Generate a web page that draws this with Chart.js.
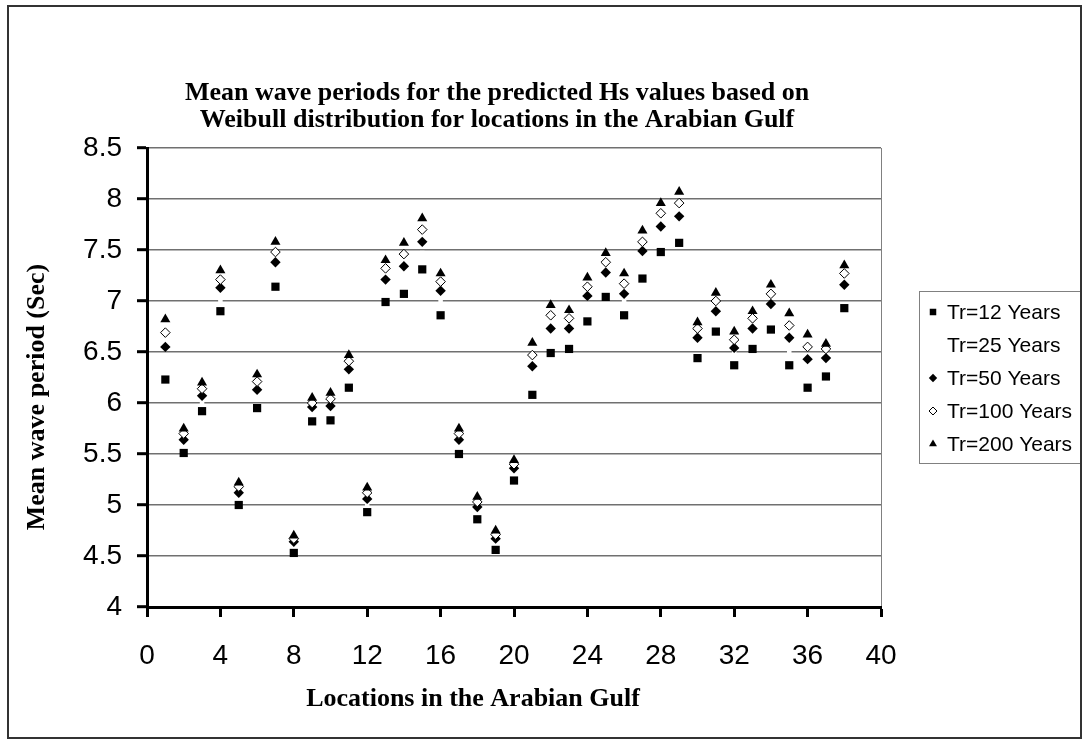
<!DOCTYPE html>
<html>
<head>
<meta charset="utf-8">
<title>Mean wave periods - Arabian Gulf</title>
<script src="https://cdn.jsdelivr.net/npm/chart.js@4/dist/chart.umd.min.js"></script>
<style>
  html, body { margin: 0; padding: 0; background: #fff; }
  #wrap { width: 1088px; height: 744px; }
</style>
</head>
<body>
<div id="wrap"><canvas id="chart" width="1088" height="744"></canvas></div>
<script>
// Locations (x) and mean wave periods (sec) per return period
const locations = [1,2,3,4,5,6,7,8,9,10,11,12,13,14,15,16,17,18,19,20,21,22,23,24,25,26,27,28,29,30,31,32,33,34,35,36,37,38];
const tr12  = [6.23,5.51,5.92,6.90,5.00,5.95,7.14,4.53,5.82,5.83,6.15,4.93,6.99,7.07,7.31,6.86,5.50,4.86,4.56,5.24,6.08,6.49,6.53,6.80,7.04,6.86,7.22,7.48,7.57,6.44,6.70,6.37,6.53,6.72,6.37,6.15,6.26,6.93];
const tr25  = [6.42,5.59,6.01,7.00,5.07,6.06,7.28,4.60,5.90,5.91,6.26,5.01,7.12,7.23,7.47,7.00,5.58,4.93,4.63,5.31,6.25,6.63,6.65,6.95,7.18,7.00,7.38,7.63,7.73,6.54,6.82,6.50,6.65,6.87,6.50,6.32,6.37,7.07];
const tr50  = [6.55,5.64,6.07,7.13,5.12,6.13,7.38,4.64,5.96,5.97,6.33,5.06,7.21,7.34,7.58,7.10,5.64,4.98,4.67,5.36,6.36,6.73,6.73,7.05,7.28,7.07,7.49,7.73,7.83,6.64,6.90,6.54,6.73,6.97,6.64,6.43,6.44,7.16];
const tr100 = [6.69,5.70,6.14,7.21,5.18,6.21,7.48,4.67,6.00,6.04,6.41,5.12,7.32,7.46,7.70,7.19,5.70,5.03,4.71,5.40,6.47,6.86,6.83,7.14,7.38,7.17,7.58,7.86,7.96,6.73,7.00,6.62,6.83,7.07,6.76,6.55,6.53,7.27];
const tr200 = [6.82,5.75,6.20,7.30,5.22,6.28,7.58,4.70,6.05,6.10,6.47,5.17,7.40,7.57,7.81,7.27,5.75,5.08,4.75,5.44,6.59,6.96,6.91,7.23,7.47,7.27,7.69,7.96,8.07,6.79,7.08,6.70,6.90,7.16,6.88,6.67,6.58,7.35];

const seriesLabels = ['Tr=12 Years', 'Tr=25 Years', 'Tr=50 Years', 'Tr=100 Years', 'Tr=200 Years'];
const titleLines = ['Mean wave periods for the predicted Hs values based on',
                    'Weibull distribution for locations in the Arabian Gulf'];
const xTitle = 'Locations in the Arabian Gulf';
const yTitle = 'Mean wave period (Sec)';

const toPoints = vals => vals.map((v, i) => ({ x: locations[i], y: v }));

// marker look of each series (plot and legend)
const markers = [
  { pointStyle: 'rect',     radius: 5.8, legendRadius: 4.6, fill: '#000', stroke: '#000', bw: 0 },
  { pointStyle: 'rect',     radius: 3.2, legendRadius: 3.2, fill: '#fff', stroke: '#fff', bw: 0 },
  { pointStyle: 'rectRot',  radius: 5.2, legendRadius: 4.2, fill: '#000', stroke: '#000', bw: 0 },
  { pointStyle: 'rectRot',  radius: 4.8, legendRadius: 4,   fill: '#fff', stroke: '#000', bw: 1 },
  { pointStyle: 'triangle', radius: 5.8, legendRadius: 4.6, fill: '#000', stroke: '#000', bw: 0 }
];
const seriesValues = [tr12, tr25, tr50, tr100, tr200];

const datasets = seriesValues.map((vals, i) => ({
  label: seriesLabels[i],
  data: toPoints(vals),
  pointStyle: markers[i].pointStyle,
  pointRadius: markers[i].radius,
  pointHoverRadius: markers[i].radius,
  backgroundColor: markers[i].fill,
  borderColor: markers[i].stroke,
  borderWidth: markers[i].bw,
  order: i === 1 ? 10 : 5 - i
}));

const serif = '"Liberation Serif", "Times New Roman", serif';
const sans = '"Liberation Sans", Arial, sans-serif';

// titles, legend and the outer frame
const decorations = {
  id: 'decorations',
  afterDraw(chart) {
    const ctx = chart.ctx;
    ctx.save();
    ctx.fillStyle = '#000';
    ctx.textAlign = 'center';
    ctx.textBaseline = 'middle';
    ctx.font = 'bold 26px ' + serif;
    ctx.fillText(titleLines[0], 497, 93);
    ctx.fillText(titleLines[1], 497, 120);

    ctx.fillText(xTitle, 473, 699);

    ctx.save();
    ctx.translate(37, 397);
    ctx.rotate(-Math.PI / 2);
    ctx.fillText(yTitle, 0, 0);
    ctx.restore();

    // legend
    ctx.strokeStyle = '#808080';
    ctx.lineWidth = 1;
    ctx.strokeRect(919.5, 291.5, 162, 172);
    ctx.font = '21px ' + sans;
    ctx.textAlign = 'left';
    seriesLabels.forEach((lab, i) => {
      const y = 312 + i * 33;
      const m = markers[i];
      ctx.fillStyle = m.fill;
      ctx.strokeStyle = m.stroke;
      ctx.lineWidth = m.bw;
      Chart.helpers.drawPoint(ctx, { pointStyle: m.pointStyle, radius: m.legendRadius, borderWidth: m.bw, rotation: 0 }, 933, y);
      ctx.fillStyle = '#000';
      ctx.fillText(lab, 947, y + 1);
    });

    // outer frame
    ctx.strokeStyle = '#333';
    ctx.lineWidth = 2;
    ctx.strokeRect(8, 6, 1073, 732);
    ctx.restore();
  }
};

new Chart(document.getElementById('chart'), {
  type: 'scatter',
  data: { datasets },
  plugins: [decorations],
  options: {
    responsive: false,
    animation: false,
    devicePixelRatio: 1,
    layout: { padding: { left: 0, top: 148, right: 207, bottom: 0 } },
    plugins: {
      legend: { display: false },
      title: { display: false },
      tooltip: { enabled: false }
    },
    scales: {
      x: {
        type: 'linear',
        min: 0,
        max: 40,
        afterFit: s => { s.height = 137; },
        ticks: { stepSize: 4, color: '#000', padding: 22, font: { family: sans, size: 28 } },
        grid: {
          color: c => (c.tick && c.tick.value === 40 ? '#808080' : 'rgba(0,0,0,0)'),
          lineWidth: 1,
          tickColor: '#000',
          tickLength: 10,
          tickWidth: 3
        },
        border: { color: '#000', width: 3 }
      },
      y: {
        type: 'linear',
        min: 4,
        max: 8.5,
        afterFit: s => { s.width = 147; },
        ticks: {
          stepSize: 0.5,
          color: '#000',
          padding: 15,
          font: { family: sans, size: 28 },
          callback: v => String(v)
        },
        grid: {
          color: '#707070',
          lineWidth: 1.4,
          tickColor: '#000',
          tickLength: 10,
          tickWidth: 3
        },
        border: { color: '#000', width: 3 }
      }
    }
  }
});
</script>
</body>
</html>
